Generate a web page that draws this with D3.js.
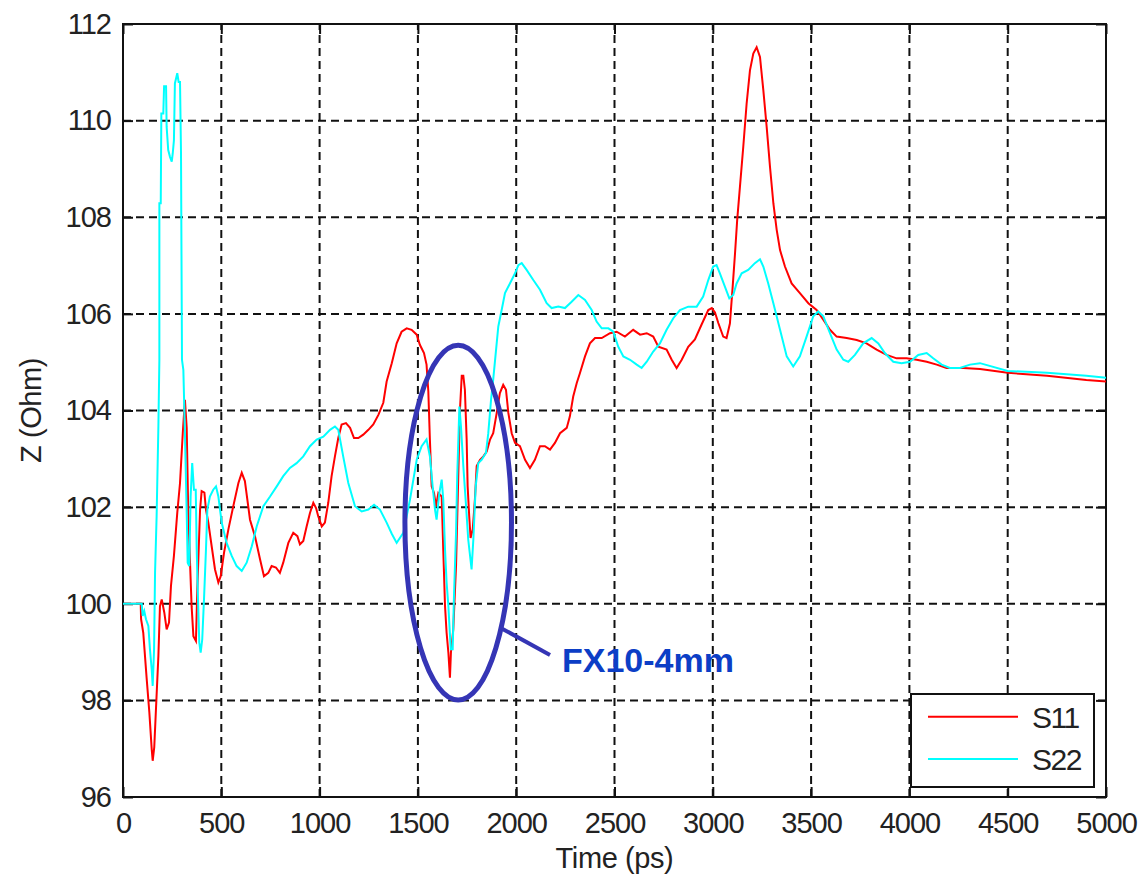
<!DOCTYPE html>
<html><head><meta charset="utf-8">
<script src="https://cdn.jsdelivr.net/npm/d3@7"></script>
<style>
body{margin:0;background:#fff}
svg{display:block}
text{font-family:"Liberation Sans",Arial,sans-serif;fill:#222}
</style>
</head><body>
<svg id="chart" width="1138" height="880"></svg>
<script>
// ---------------- data ----------------
const seriesNames = ["S11", "S22"];
const xTicks = [0, 500, 1000, 1500, 2000, 2500, 3000, 3500, 4000, 4500, 5000];
const yTicks = [96, 98, 100, 102, 104, 106, 108, 110, 112];
const xLabel = "Time (ps)";
const yLabel = "Z (Ohm)";

const s11Time = [0,90,92,103,120,134,146,151,159,168,180,188,197,210,222,234,244,259,276,290,304,315,324,332,341,349,358,371,378,385,392,400,414,422,434,451,468,485,497,514,536,561,587,604,620,646,671,697,717,739,756,778,798,815,841,866,887,900,917,934,951,968,982,993,1011,1027,1044,1061,1078,1095,1112,1134,1155,1175,1197,1222,1248,1273,1299,1324,1341,1367,1392,1417,1443,1468,1494,1510,1531,1544,1553,1561,1570,1582,1592,1604,1621,1629,1638,1646,1655,1663,1668,1680,1694,1705,1714,1723,1731,1739,1748,1753,1761,1768,1779,1790,1799,1816,1833,1850,1867,1883,1901,1917,1934,1948,1960,1977,1994,2019,2045,2070,2095,2121,2146,2172,2197,2223,2257,2273,2290,2308,2324,2350,2375,2401,2435,2477,2511,2553,2595,2630,2664,2697,2723,2765,2791,2816,2842,2875,2909,2943,2977,2995,3011,3028,3053,3070,3087,3101,3113,3124,3138,3155,3172,3189,3206,3223,3240,3257,3274,3291,3308,3325,3342,3367,3401,3443,3486,3528,3562,3596,3630,3681,3732,3782,3833,3884,3935,3986,4037,4088,4139,4189,4274,4359,4500,4700,4900,5000];
const s11Z = [100,100,99.68,99.40,98.47,97.75,96.99,96.75,97.03,97.85,98.92,99.95,100.09,99.82,99.47,99.61,100.37,100.99,101.88,102.5,103.53,104.22,103.64,101.88,100.85,99.95,99.33,99.23,100.30,101.12,101.95,102.33,102.30,101.95,101.68,101.19,100.71,100.44,100.57,101.06,101.54,102.02,102.50,102.71,102.54,101.74,101.40,100.92,100.57,100.64,100.78,100.75,100.64,100.85,101.26,101.47,101.40,101.23,101.30,101.60,101.88,102.09,101.98,101.81,101.60,101.68,102.09,102.64,103.05,103.43,103.71,103.74,103.64,103.43,103.43,103.50,103.60,103.71,103.91,104.16,104.6,104.98,105.39,105.63,105.70,105.67,105.57,105.36,105.19,104.95,104.4,103.40,102.43,102.29,102.02,102.29,102.22,101.12,99.95,99.40,98.99,98.47,98.99,99.47,100.78,102.57,104.02,104.72,104.72,104.43,103.40,102.43,101.81,101.36,101.54,102.16,102.85,102.98,103.05,103.15,103.40,103.53,103.95,104.36,104.53,104.43,103.95,103.53,103.33,103.26,102.98,102.81,102.98,103.26,103.26,103.19,103.33,103.53,103.64,103.88,104.29,104.57,104.77,105.12,105.39,105.50,105.50,105.60,105.63,105.53,105.67,105.57,105.60,105.53,105.32,105.26,105.05,104.88,105.05,105.32,105.47,105.78,106.08,106.12,106.03,105.81,105.53,105.50,105.80,106.56,107.25,107.94,108.63,109.46,110.35,111.04,111.39,111.52,111.32,110.63,109.87,109.04,108.29,107.74,107.32,106.98,106.63,106.43,106.22,106.08,105.88,105.67,105.53,105.50,105.46,105.39,105.26,105.15,105.08,105.08,105.05,105.01,104.95,104.88,104.88,104.86,104.78,104.72,104.63,104.6];

const s22Time = [0,95,100,108,117,129,137,146,151,158,163,171,180,185,185,192,195,205,209,219,222,230,239,248,253,259,264,276,283,290,295,300,307,315,324,329,337,344,352,361,370,375,380,388,395,403,412,422,429,442,459,473,485,502,527,553,578,604,629,655,680,714,748,782,815,849,883,917,951,985,1019,1053,1078,1095,1120,1146,1180,1214,1248,1277,1307,1341,1367,1392,1426,1460,1494,1519,1544,1561,1575,1587,1595,1609,1621,1629,1638,1646,1655,1667,1677,1683,1694,1700,1711,1719,1731,1745,1756,1773,1782,1794,1807,1824,1846,1858,1872,1883,1909,1926,1943,1968,1994,2011,2028,2053,2087,2121,2155,2180,2214,2248,2282,2316,2350,2384,2409,2435,2469,2494,2519,2545,2579,2613,2638,2664,2697,2731,2765,2799,2833,2875,2918,2951,2977,3002,3019,3036,3062,3084,3104,3121,3147,3180,3214,3240,3257,3282,3308,3342,3376,3409,3443,3477,3511,3536,3562,3596,3630,3664,3689,3723,3765,3808,3842,3875,3918,3960,4003,4045,4088,4121,4164,4206,4257,4308,4359,4500,4700,4900,5000];
const s22Z = [100,100,99.75,99.85,99.68,99.54,99.06,98.64,98.30,99.06,100.64,101.81,103.67,105.05,108.29,108.29,110.15,110.15,110.71,110.71,109.87,109.39,109.25,109.15,109.32,109.59,110.77,110.98,110.80,110.80,109.35,105.05,104.84,103.53,101.88,100.85,100.78,102.22,102.91,102.36,102.36,101.12,100.30,99.20,98.99,99.26,100.09,101.12,101.95,102.22,102.36,102.43,102.22,101.68,101.26,100.99,100.78,100.68,100.85,101.19,101.60,102.02,102.22,102.43,102.64,102.81,102.91,103.05,103.26,103.40,103.46,103.60,103.67,103.60,103.05,102.50,102.02,101.91,101.95,102.05,101.95,101.68,101.45,101.26,101.47,102.16,102.98,103.26,103.40,103.05,102.43,101.95,101.74,102.29,102.57,102.16,101.12,100.44,99.95,99.06,99.06,100.09,101.47,102.64,104.08,103.67,102.85,102.02,101.33,100.71,101.33,102.43,102.91,102.98,103.12,103.53,104.22,104.64,105.74,106.08,106.43,106.63,106.84,107.01,107.05,106.91,106.70,106.50,106.22,106.12,106.15,106.12,106.25,106.39,106.29,106.08,105.84,105.70,105.70,105.63,105.32,105.12,105.05,104.95,104.88,105.01,105.22,105.39,105.67,105.91,106.08,106.15,106.15,106.36,106.70,106.98,107.01,106.84,106.56,106.32,106.39,106.63,106.84,106.91,107.05,107.13,106.98,106.63,106.22,105.67,105.12,104.91,105.12,105.53,105.95,106.05,105.95,105.60,105.26,105.05,105.01,105.15,105.39,105.50,105.39,105.19,105.01,104.98,105.01,105.15,105.19,105.08,104.95,104.88,104.88,104.95,104.98,104.82,104.78,104.72,104.68];

// annotation (data units)
const noteText = "FX10-4mm";
const noteCenter = [1705, 101.68];
const noteRadius = [271, 3.67];
const noteLeader = [[1926, 99.49], [2172, 98.94]];
const noteAnchor = [2233, 98.59];

// ---------------- drawing ----------------
const svg = d3.select("#chart");
const L = 123, R = 1106, T = 24, B = 797;
const x = d3.scaleLinear().domain([0, 5000]).range([L, R]);
const y = d3.scaleLinear().domain([96, 112]).range([B, T]);

svg.append("rect").attr("x", L).attr("y", T).attr("width", R - L).attr("height", B - T).attr("fill", "#fff");

// grid
const grid = svg.append("g").attr("stroke", "#111").attr("stroke-width", 2).attr("stroke-dasharray", "8,5");
grid.selectAll(".gx").data(xTicks.slice(1, -1)).join("line")
  .attr("x1", d => x(d)).attr("x2", d => x(d)).attr("y1", B).attr("y2", T);
grid.selectAll(".gy").data(yTicks.slice(1, -1)).join("line")
  .attr("y1", d => y(d)).attr("y2", d => y(d)).attr("x1", L).attr("x2", R);

// axes
const fmt = d3.format("d");
function styleAxis(g) {
  g.select(".domain").remove();
  g.selectAll(".tick line").attr("stroke", "#111").attr("stroke-width", 2);
  g.selectAll(".tick text").attr("font-size", 29).attr("letter-spacing", "-1px").attr("fill", "#222")
    .style("font-family", "'Liberation Sans', Arial, sans-serif");
}
svg.append("g").attr("transform", `translate(0,${B})`)
  .call(d3.axisBottom(x).tickValues(xTicks).tickFormat(fmt).tickSize(-10).tickSizeOuter(0).tickPadding(15))
  .call(styleAxis);
svg.append("g").attr("transform", `translate(0,${T})`)
  .call(d3.axisTop(x).tickValues(xTicks).tickFormat("").tickSize(-10).tickSizeOuter(0))
  .call(styleAxis);
svg.append("g").attr("transform", `translate(${L},0)`)
  .call(d3.axisLeft(y).tickValues(yTicks).tickFormat(fmt).tickSize(-10).tickSizeOuter(0).tickPadding(12))
  .call(styleAxis);
svg.append("g").attr("transform", `translate(${R},0)`)
  .call(d3.axisRight(y).tickValues(yTicks).tickFormat("").tickSize(-10).tickSizeOuter(0))
  .call(styleAxis);

svg.append("rect").attr("x", L).attr("y", T).attr("width", R - L).attr("height", B - T)
  .attr("fill", "none").attr("stroke", "#111").attr("stroke-width", 2);

// axis titles
svg.append("text").attr("x", (L + R) / 2).attr("y", 868).attr("text-anchor", "middle")
  .attr("font-size", 29).attr("letter-spacing", "-0.4px").text(xLabel);
svg.append("text").attr("transform", `translate(41,${(T + B) / 2}) rotate(-90)`).attr("text-anchor", "middle")
  .attr("font-size", 29).attr("letter-spacing", "-0.4px").text(yLabel);

// lines
const series = [
  {name: seriesNames[0], t: s11Time, z: s11Z, color: "#ff0000"},
  {name: seriesNames[1], t: s22Time, z: s22Z, color: "#00ffff"}
];
const line = d3.line().x(d => x(d[0])).y(d => y(d[1]));
const plot = svg.append("g");
series.forEach(s => {
  plot.append("path").datum(s.t.map((t, i) => [t, s.z[i]]))
    .attr("fill", "none").attr("stroke", s.color).attr("stroke-width", 2)
    .attr("stroke-linejoin", "miter").attr("d", line);
});

// annotation
const annoColor = "#3535b5";
svg.append("ellipse")
  .attr("cx", x(noteCenter[0])).attr("cy", y(noteCenter[1]))
  .attr("rx", x(noteCenter[0] + noteRadius[0]) - x(noteCenter[0]))
  .attr("ry", y(noteCenter[1] - noteRadius[1]) - y(noteCenter[1]))
  .attr("fill", "none").attr("stroke", annoColor).attr("stroke-width", 5);
svg.append("line")
  .attr("x1", x(noteLeader[0][0])).attr("y1", y(noteLeader[0][1]))
  .attr("x2", x(noteLeader[1][0])).attr("y2", y(noteLeader[1][1]))
  .attr("stroke", annoColor).attr("stroke-width", 4);
svg.append("text").attr("x", x(noteAnchor[0])).attr("y", y(noteAnchor[1]))
  .attr("font-size", 34).attr("font-weight", "bold").style("fill", "#0c3ec6").text(noteText);

// legend
const lg = svg.append("g");
lg.append("rect").attr("x", 911).attr("y", 694).attr("width", 183).attr("height", 93)
  .attr("fill", "#fff").attr("stroke", "#111").attr("stroke-width", 2);
series.forEach((s, i) => {
  const yy = 716.7 + i * 42.3;
  lg.append("line").attr("x1", 928).attr("x2", 1018).attr("y1", yy).attr("y2", yy)
    .attr("stroke", s.color).attr("stroke-width", 2);
  lg.append("text").attr("x", 1032).attr("y", yy).attr("dy", "0.36em")
    .attr("font-size", 30).attr("letter-spacing", "-1.5px").text(s.name);
});
</script>
</body></html>
